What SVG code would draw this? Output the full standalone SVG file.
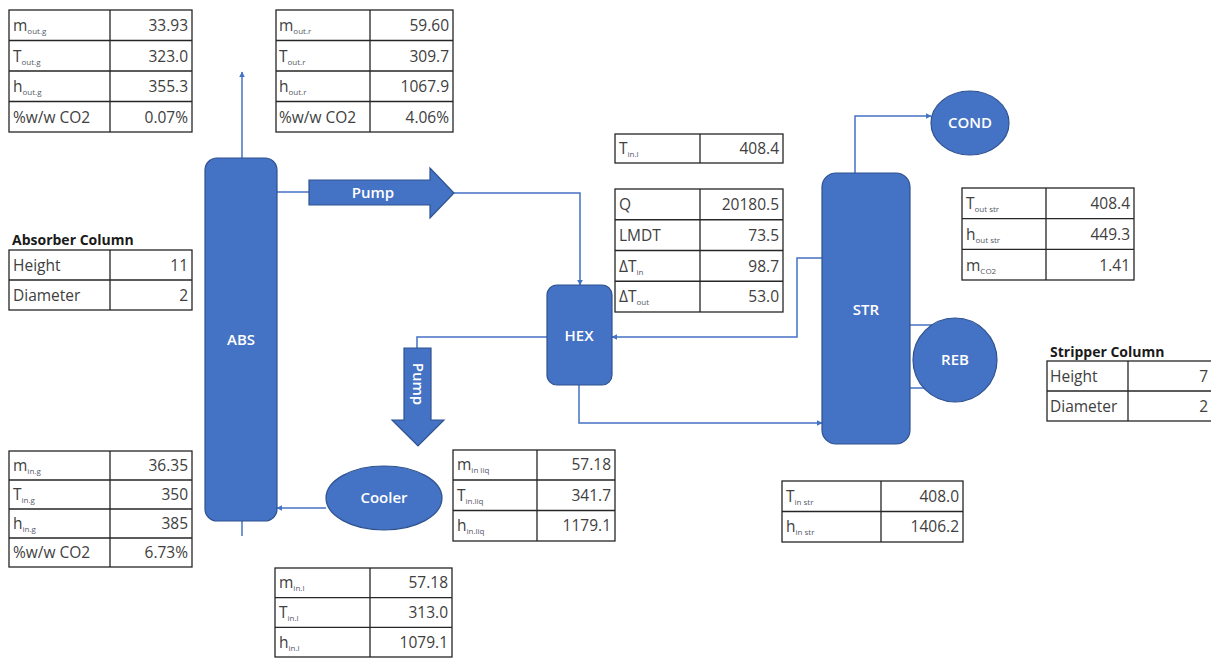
<svg xmlns="http://www.w3.org/2000/svg" width="1211" height="659" viewBox="0 0 1211 659">
  <defs>
    <marker id="arr" viewBox="0 0 10 10" refX="9" refY="5" markerWidth="6" markerHeight="6" orient="auto" markerUnits="userSpaceOnUse">
      <path d="M0,0 L10,5 L0,10 z" fill="#4472C4"/>
    </marker>
    <style>
      .bg { fill: #ffffff; }
      .unit { fill: #4472C4; stroke: #2F528F; stroke-width: 1.2; }
      .lbl { font-family: "Open Sans", "Liberation Sans", sans-serif; font-size: 15px; font-weight: 600; fill: #ffffff; text-anchor: middle; }
      .flow { fill: none; stroke: #4472C4; stroke-width: 1.5; }
      .cell { fill: #ffffff; stroke: #262626; stroke-width: 1.3; }
      .grid { stroke: #262626; stroke-width: 1.3; }
      .t { font-family: "Open Sans", "Liberation Sans", sans-serif; font-size: 15.5px; fill: #404040; }
      .v { text-anchor: end; }
      .sub { font-size: 8px; fill: #555a66; }
      .title { font-family: "Open Sans", "Liberation Sans", sans-serif; font-size: 14px; font-weight: bold; fill: #1a1a1a; }
    </style>
  </defs>

  <rect class="bg" x="0" y="0" width="1211" height="659"/>

  <!-- process lines -->
  <g id="connectors">
    <path class="flow" d="M242 158 V72" marker-end="url(#arr)"/>
    <path class="flow" d="M242 521 V536"/>
    <path class="flow" d="M277 192 H309"/>
    <path class="flow" d="M454 193 H580 V285" marker-end="url(#arr)"/>
    <path class="flow" d="M822 258 H797 V337 H612" marker-end="url(#arr)"/>
    <path class="flow" d="M579 385 V423 H822" marker-end="url(#arr)"/>
    <path class="flow" d="M547 337 H417 V348"/>
    <path class="flow" d="M326 508 H277" marker-end="url(#arr)"/>
    <path class="flow" d="M855 173 V116 H931" marker-end="url(#arr)"/>
    <path class="flow" d="M910 325 H950"/>
    <path class="flow" d="M910 388 H950"/>
  </g>

  <!-- equipment -->
  <g id="abs">
    <rect class="unit" x="205" y="158" width="72" height="363" rx="12"/>
    <text class="lbl" x="241" y="345">ABS</text>
  </g>
  <g id="pump-rich">
    <polygon class="unit" points="309,180 430,180 430,168 454,193 430,218 430,205 309,205"/>
    <text class="lbl" x="373" y="198">Pump</text>
  </g>
  <g id="hex">
    <rect class="unit" x="547" y="285" width="65" height="100" rx="10"/>
    <text class="lbl" x="579" y="341">HEX</text>
  </g>
  <g id="pump-lean">
    <polygon class="unit" points="404,348 431,348 431,420 444,420 418,446 392,420 404,420"/>
    <text class="lbl" x="0" y="0" transform="translate(413 384) rotate(90)">Pump</text>
  </g>
  <g id="cooler">
    <ellipse class="unit" cx="384" cy="498" rx="58" ry="32"/>
    <text class="lbl" x="384" y="503">Cooler</text>
  </g>
  <g id="str">
    <rect class="unit" x="822" y="173" width="88" height="271" rx="14"/>
    <text class="lbl" x="866" y="315">STR</text>
  </g>
  <g id="reb">
    <circle class="unit" cx="955" cy="360" r="42"/>
    <text class="lbl" x="955" y="365">REB</text>
  </g>
  <g id="cond">
    <ellipse class="unit" cx="970" cy="123" rx="39" ry="32"/>
    <text class="lbl" x="970" y="128">COND</text>
  </g>

  <!-- gas outlet table -->
  <g id="tbl-out-gas">
    <rect class="cell" x="9" y="10" width="183" height="122"/>
    <path class="grid" d="M110 10 V132 M9 40.5 H192 M9 71 H192 M9 101.5 H192"/>
    <text class="t" x="13" y="31">m<tspan class="sub" dy="3">out.g</tspan></text>
    <text class="t v" x="188" y="31">33.93</text>
    <text class="t" x="13" y="61.5">T<tspan class="sub" dy="3">out.g</tspan></text>
    <text class="t v" x="188" y="61.5">323.0</text>
    <text class="t" x="13" y="92">h<tspan class="sub" dy="3">out.g</tspan></text>
    <text class="t v" x="188" y="92">355.3</text>
    <text class="t" x="13" y="122.5">%w/w CO2</text>
    <text class="t v" x="188" y="122.5">0.07%</text>
  </g>

  <!-- rich outlet table -->
  <g id="tbl-out-rich">
    <rect class="cell" x="276" y="10" width="177" height="122"/>
    <path class="grid" d="M370 10 V132 M276 40.5 H453 M276 71 H453 M276 101.5 H453"/>
    <text class="t" x="279" y="31">m<tspan class="sub" dy="3">out.r</tspan></text>
    <text class="t v" x="449" y="31">59.60</text>
    <text class="t" x="279" y="61.5">T<tspan class="sub" dy="3">out.r</tspan></text>
    <text class="t v" x="449" y="61.5">309.7</text>
    <text class="t" x="279" y="92">h<tspan class="sub" dy="3">out.r</tspan></text>
    <text class="t v" x="449" y="92">1067.9</text>
    <text class="t" x="279" y="122.5">%w/w CO2</text>
    <text class="t v" x="449" y="122.5">4.06%</text>
  </g>

  <!-- lean inlet temperature -->
  <g id="tbl-tinl">
    <rect class="cell" x="615" y="134" width="168" height="29"/>
    <path class="grid" d="M700 134 V163"/>
    <text class="t" x="619" y="154">T<tspan class="sub" dy="3">in.l</tspan></text>
    <text class="t v" x="779" y="154">408.4</text>
  </g>

  <!-- heat exchanger duty -->
  <g id="tbl-hex">
    <rect class="cell" x="615" y="189" width="168" height="123"/>
    <path class="grid" d="M700 189 V312 M615 219.75 H783 M615 250.5 H783 M615 281.25 H783"/>
    <text class="t" x="619" y="210">Q</text>
    <text class="t v" x="779" y="210">20180.5</text>
    <text class="t" x="619" y="241">LMDT</text>
    <text class="t v" x="779" y="241">73.5</text>
    <text class="t" x="619" y="271.5">ΔT<tspan class="sub" dy="3">in</tspan></text>
    <text class="t v" x="779" y="271.5">98.7</text>
    <text class="t" x="619" y="302">ΔT<tspan class="sub" dy="3">out</tspan></text>
    <text class="t v" x="779" y="302">53.0</text>
  </g>

  <!-- stripper outlet table -->
  <g id="tbl-out-str">
    <rect class="cell" x="962" y="188" width="172" height="92"/>
    <path class="grid" d="M1046 188 V280 M962 218.7 H1134 M962 249.3 H1134"/>
    <text class="t" x="966" y="209">T<tspan class="sub" dy="3">out str</tspan></text>
    <text class="t v" x="1130" y="209">408.4</text>
    <text class="t" x="966" y="240">h<tspan class="sub" dy="3">out str</tspan></text>
    <text class="t v" x="1130" y="240">449.3</text>
    <text class="t" x="966" y="270.5">m<tspan class="sub" dy="3">CO2</tspan></text>
    <text class="t v" x="1130" y="270.5">1.41</text>
  </g>

  <!-- absorber sizing -->
  <g id="tbl-abs">
    <text class="title" x="12" y="245">Absorber Column</text>
    <rect class="cell" x="9" y="250" width="183" height="60"/>
    <path class="grid" d="M110 250 V310 M9 280 H192"/>
    <text class="t" x="13" y="270.5">Height</text>
    <text class="t v" x="188" y="270.5">11</text>
    <text class="t" x="13" y="300.5">Diameter</text>
    <text class="t v" x="188" y="300.5">2</text>
  </g>

  <!-- gas inlet table -->
  <g id="tbl-in-gas">
    <rect class="cell" x="9" y="451" width="183" height="116"/>
    <path class="grid" d="M110 451 V567 M9 480 H192 M9 509 H192 M9 538 H192"/>
    <text class="t" x="13" y="471">m<tspan class="sub" dy="3">in.g</tspan></text>
    <text class="t v" x="188" y="471">36.35</text>
    <text class="t" x="13" y="500">T<tspan class="sub" dy="3">in.g</tspan></text>
    <text class="t v" x="188" y="500">350</text>
    <text class="t" x="13" y="529">h<tspan class="sub" dy="3">in.g</tspan></text>
    <text class="t v" x="188" y="529">385</text>
    <text class="t" x="13" y="558">%w/w CO2</text>
    <text class="t v" x="188" y="558">6.73%</text>
  </g>

  <!-- lean inlet table -->
  <g id="tbl-in-lean">
    <rect class="cell" x="275" y="568" width="177" height="89"/>
    <path class="grid" d="M370 568 V657 M275 597.7 H452 M275 627.3 H452"/>
    <text class="t" x="279" y="588">m<tspan class="sub" dy="3">in.l</tspan></text>
    <text class="t v" x="448" y="588">57.18</text>
    <text class="t" x="279" y="618">T<tspan class="sub" dy="3">in.l</tspan></text>
    <text class="t v" x="448" y="618">313.0</text>
    <text class="t" x="279" y="647.5">h<tspan class="sub" dy="3">in.l</tspan></text>
    <text class="t v" x="448" y="647.5">1079.1</text>
  </g>

  <!-- cooler inlet table -->
  <g id="tbl-in-liq">
    <rect class="cell" x="453" y="450" width="162" height="91"/>
    <path class="grid" d="M537 450 V541 M453 480 H615 M453 510.5 H615"/>
    <text class="t" x="457" y="470">m<tspan class="sub" dy="3">in liq</tspan></text>
    <text class="t v" x="611" y="470">57.18</text>
    <text class="t" x="457" y="500.5">T<tspan class="sub" dy="3">in.liq</tspan></text>
    <text class="t v" x="611" y="500.5">341.7</text>
    <text class="t" x="457" y="531">h<tspan class="sub" dy="3">in.liq</tspan></text>
    <text class="t v" x="611" y="531">1179.1</text>
  </g>

  <!-- stripper inlet table -->
  <g id="tbl-in-str">
    <rect class="cell" x="782" y="481" width="181" height="61"/>
    <path class="grid" d="M881 481 V542 M782 511.5 H963"/>
    <text class="t" x="786" y="501.5">T<tspan class="sub" dy="3">in str</tspan></text>
    <text class="t v" x="959" y="501.5">408.0</text>
    <text class="t" x="786" y="532">h<tspan class="sub" dy="3">in str</tspan></text>
    <text class="t v" x="959" y="532">1406.2</text>
  </g>

  <!-- stripper sizing -->
  <g id="tbl-str">
    <text class="title" x="1050" y="357">Stripper Column</text>
    <rect class="cell" x="1047" y="361" width="168" height="60"/>
    <path class="grid" d="M1128 361 V421 M1047 391 H1215"/>
    <text class="t" x="1050" y="381.5">Height</text>
    <text class="t v" x="1208" y="381.5">7</text>
    <text class="t" x="1050" y="411.5">Diameter</text>
    <text class="t v" x="1208" y="411.5">2</text>
  </g>
</svg>
